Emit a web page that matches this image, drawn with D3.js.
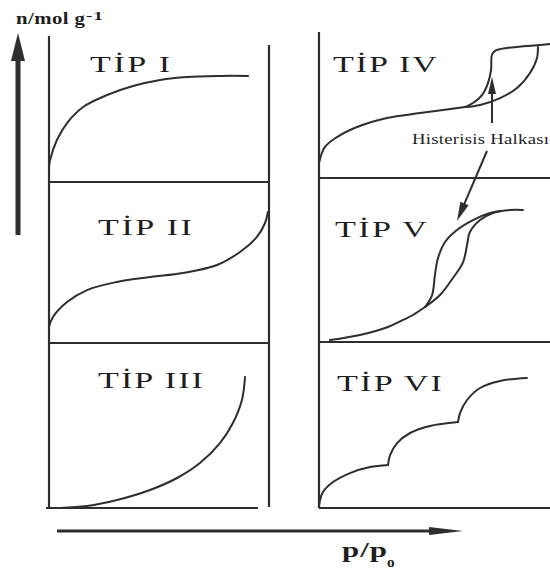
<!DOCTYPE html>
<html>
<head>
<meta charset="utf-8">
<script src="https://cdn.jsdelivr.net/npm/d3@7/dist/d3.min.js"></script>
<style>
  html, body { margin: 0; padding: 0; background: #ffffff; }
  svg { display: block; }
  .serif { font-family: "Liberation Serif", "Times New Roman", Times, serif; }
</style>
</head>
<body>
<svg id="chart" width="550" height="572"></svg>
<script>
// Isotherm shapes, each point is [p/p0, n] in panel units (0..1 along each axis).
const typeI = [[0, .10], [.005, .147], [.036, .28], [.082, .393], [.155, .5], [.264, .58],
  [.382, .64], [.505, .68], [.627, .70], [.777, .707], [.905, .707]];

const typeII = [[0, .107], [.018, .173], [.082, .273], [.173, .353], [.309, .407], [.459, .44],
  [.609, .467], [.764, .52], [.868, .607], [.945, .707], [.982, .8], [.995, .873]];

const typeIII = [[.05, 0], [.173, .013], [.309, .053], [.459, .12], [.582, .2], [.686, .3],
  [.777, .433], [.836, .567], [.877, .72], [.891, .873]];

const typeIV = [[0, .1], [.027, .207], [.082, .273], [.173, .34], [.309, .4], [.459, .433], [.664, .473]];
const typeIVAdsorption = [[.664, .473], [.70, .5], [.741, .553], [.768, .633], [.782, .72],
  [.786, .82], [.8, .847], [.855, .867], [1.005, .887], [1.05, .893]];
const typeIVDesorption = [[.995, .873], [.991, .8], [.959, .7], [.9, .6], [.823, .533],
  [.732, .487], [.664, .473]];

const typeV = [[.05, .013], [.186, .047], [.3, .093], [.382, .147], [.427, .18], [.482, .233]];
const typeVLeft = [[.482, .233], [.514, .313], [.527, .447], [.541, .56], [.573, .667],
  [.627, .747], [.7, .813], [.777, .86], [.823, .873]];
const typeVRight = [[.482, .233], [.55, .313], [.609, .427], [.655, .533], [.673, .647],
  [.686, .733], [.732, .813], [.791, .86], [.868, .88], [.927, .88]];

const typeVIStep1 = [[0, .007], [.005, .053], [.018, .107], [.064, .173], [.141, .233], [.232, .273], [.314, .287]];
const typeVIStep2 = [[.314, .287], [.323, .353], [.355, .433], [.414, .5], [.505, .547], [.632, .573]];
const typeVIStep3 = [[.632, .573], [.641, .633], [.673, .72], [.732, .8], [.823, .847], [.945, .867]];

const panelTitles = ["TİP I", "TİP II", "TİP III", "TİP IV", "TİP V", "TİP VI"];
const yAxisLabel = "n/mol g";
const yAxisLabelSup = "-1";
const xAxisLabel = "p/p";
const xAxisLabelSub = "o";
const loopLabel = "Histerisis Halkası";

// ---- layout ----
const ink = "#2e2e2e";
const textInk = "#1e1e1e";
const colLeft = [49, 319];
const panelW = 220, unitH = 150;
const rowBottoms = [[182, 343, 508], [178, 342, 508]];

const panels = [
  { col: 0, row: 0, title: panelTitles[0], tx: 90, ty: 72, tw: 80, curves: [typeI] },
  { col: 0, row: 1, title: panelTitles[1], tx: 98, ty: 235, tw: 94, curves: [typeII] },
  { col: 0, row: 2, title: panelTitles[2], tx: 98, ty: 388, tw: 105, curves: [typeIII] },
  { col: 1, row: 0, title: panelTitles[3], tx: 333, ty: 72, tw: 104, curves: [typeIV, typeIVAdsorption, typeIVDesorption] },
  { col: 1, row: 1, title: panelTitles[4], tx: 335, ty: 237, tw: 92, curves: [typeV, typeVLeft, typeVRight] },
  { col: 1, row: 2, title: panelTitles[5], tx: 337, ty: 391, tw: 105, curves: [typeVIStep1, typeVIStep2, typeVIStep3] }
];

const svg = d3.select("#chart");
svg.append("rect").attr("width", 550).attr("height", 572).attr("fill", "#ffffff");

const frame = svg.append("g").attr("stroke", ink).attr("stroke-width", 2.2).attr("fill", "none");
function seg(x1, y1, x2, y2) {
  frame.append("line").attr("x1", x1).attr("y1", y1).attr("x2", x2).attr("y2", y2);
}

// panel frames: left column
const xl = d3.scaleLinear([0, 1], [colLeft[0], colLeft[0] + panelW]);
seg(xl(0), 36, xl(0), 508);
seg(xl(1), 45, xl(1), 507);
seg(xl(0), rowBottoms[0][0], xl(1), rowBottoms[0][0]);
seg(xl(0), rowBottoms[0][1], xl(1), rowBottoms[0][1]);
seg(xl(0) - 3, rowBottoms[0][2], xl(0.95), rowBottoms[0][2]);
// right column (runs off the right edge)
const xr = d3.scaleLinear([0, 1], [colLeft[1], colLeft[1] + panelW]);
seg(xr(0), 32, xr(0), 508);
rowBottoms[1].forEach(b => seg(xr(0), b, 552, b));

// stretched serif text: glyphs widened by sx, remaining width taken up by letter spacing
function label(txt, x, y, size, len, weight, sx) {
  svg.append("text").attr("class", "serif")
    .attr("transform", `translate(${x},${y}) scale(${sx},1)`)
    .attr("font-weight", weight).attr("font-size", size).attr("fill", textInk)
    .attr("textLength", len / sx).attr("lengthAdjust", "spacing").text(txt);
}

// curves
const curveGroup = svg.append("g").attr("stroke", ink).attr("stroke-width", 2)
  .attr("fill", "none").attr("stroke-linecap", "round").attr("stroke-linejoin", "round");

panels.forEach(p => {
  const bottom = rowBottoms[p.col][p.row];
  const x = d3.scaleLinear([0, 1], [colLeft[p.col], colLeft[p.col] + panelW]);
  const y = d3.scaleLinear([0, 1], [bottom, bottom - unitH]);
  const line = d3.line().x(d => x(d[0])).y(d => y(d[1])).curve(d3.curveCatmullRom.alpha(0.5));
  p.curves.forEach(c => curveGroup.append("path").attr("d", line(c)));
  label(p.title, p.tx, p.ty, 24, p.tw, "normal", 1.42);
});

// arrows
function arrow(x1, y1, x2, y2, w, headLen, headHalf) {
  const dx = x2 - x1, dy = y2 - y1, L = Math.hypot(dx, dy);
  const ux = dx / L, uy = dy / L, nx = -uy, ny = ux;
  const bx = x2 - ux * headLen, by = y2 - uy * headLen;
  svg.append("line").attr("x1", x1).attr("y1", y1).attr("x2", bx + ux * 2).attr("y2", by + uy * 2)
    .attr("stroke", ink).attr("stroke-width", w);
  const p = d3.path();
  p.moveTo(x2, y2);
  p.lineTo(bx + nx * headHalf, by + ny * headHalf);
  p.lineTo(bx - nx * headHalf, by - ny * headHalf);
  p.closePath();
  svg.append("path").attr("d", p.toString()).attr("fill", ink);
}
arrow(18, 235, 18, 33, 5, 28, 7);        // n axis
arrow(57, 531, 463, 531, 3, 34, 4);      // p/p0 axis
arrow(492, 123, 492, 77, 2, 17, 4);      // hysteresis pointer (Type IV)
arrow(487, 151, 457, 221, 2, 19, 4.5);   // hysteresis pointer (Type V)

// axis labels
label(yAxisLabel, 16, 24, 16, 69, "bold", 1.3);
label(yAxisLabelSup, 86, 20, 13, 17, "bold", 1.5);
label(xAxisLabel, 342, 557, 20, 45, "bold", 1.55);
label(xAxisLabelSub, 387, 567, 14, 8, "bold", 1.1);
label(loopLabel, 412, 144, 15, 137, "normal", 1.25);
</script>
</body>
</html>
